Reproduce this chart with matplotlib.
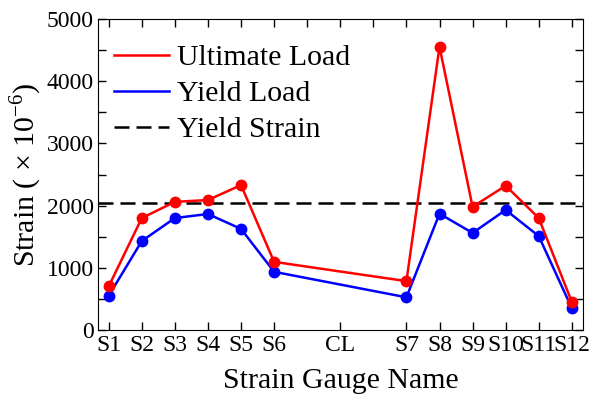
import matplotlib.pyplot as plt
from matplotlib.lines import Line2D
from matplotlib.ticker import MultipleLocator

plt.rcParams['font.family'] = ['Liberation Serif', 'DejaVu Serif']
plt.rcParams['mathtext.fontset'] = 'custom'
plt.rcParams['mathtext.rm'] = 'Liberation Serif'

gauges = ["S1", "S2", "S3", "S4", "S5", "S6", "CL", "S7", "S8", "S9", "S10", "S11", "S12"]
gauge_pos = [1, 2, 3, 4, 5, 6, 8, 10, 11, 12, 13, 14, 15]
data_gauges = ["S1", "S2", "S3", "S4", "S5", "S6", "S7", "S8", "S9", "S10", "S11", "S12"]
ultimate = [700, 1800, 2060, 2090, 2330, 1095, 785, 4555, 1980, 2320, 1800, 450]
yield_load = [550, 1430, 1800, 1865, 1625, 935, 525, 1870, 1560, 1930, 1510, 350]
yield_strain = 2040

pos_map = dict(zip(gauges, gauge_pos))
x = [pos_map[g] for g in data_gauges]

dash = (0, (6, 2.8))

fig = plt.figure(figsize=(6.02, 3.98), dpi=100)
ax = fig.add_axes([0.163, 0.171, 0.805, 0.781])

ax.plot(x, ultimate, color='#ff0000', lw=1.8, marker='o', ms=7.5, zorder=3)
ax.plot(x, yield_load, color='#0000ff', lw=1.8, marker='o', ms=7.5, zorder=2)
ax.axhline(yield_strain, color='black', ls=dash, lw=1.8, zorder=1)

ax.set_xlim(0.68, 15.33)
ax.set_ylim(0, 5000)
ax.set_xticks(gauge_pos)
ax.set_xticklabels(gauges)
ax.xaxis.set_minor_locator(MultipleLocator(1))
ax.yaxis.set_major_locator(MultipleLocator(1000))
ax.yaxis.set_minor_locator(MultipleLocator(500))
ax.tick_params(which='both', direction='in', top=True, right=True, labelsize=17, pad=3)
ax.tick_params(which='major', length=6, width=1)
ax.tick_params(which='minor', length=6, width=1)
ax.tick_params(axis='x', which='minor', bottom=False)
ax.tick_params(axis='x', pad=4)

ax.set_xlabel("Strain Gauge Name", fontsize=21.5, labelpad=8)
ax.set_ylabel("Strain ( × 10$^{-6}$)", fontsize=21.5, labelpad=2)

handles = [Line2D([], [], color='#ff0000', lw=1.8),
           Line2D([], [], color='#0000ff', lw=1.8),
           Line2D([], [], color='black', lw=1.8, ls=dash)]
ax.legend(handles, ["Ultimate Load", "Yield Load", "Yield Strain"], loc='upper left',
          bbox_to_anchor=(-0.02, 1.0), frameon=False, fontsize=21.5, handlelength=1.85,
          borderaxespad=0.45, labelspacing=0.3, handletextpad=0.25)

fig.savefig("out.png", dpi=100)
